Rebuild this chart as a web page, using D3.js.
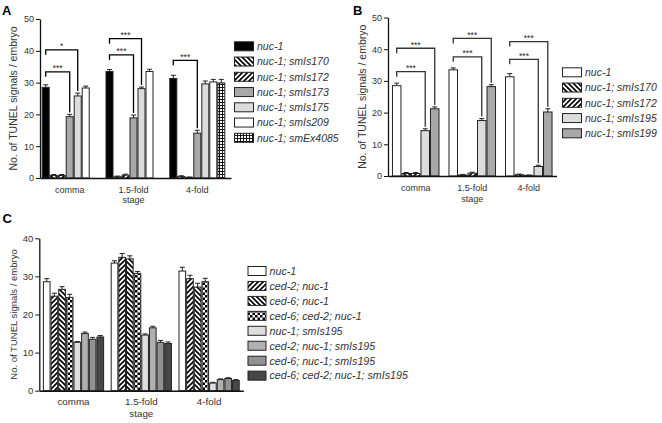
<!DOCTYPE html>
<html><head><meta charset="utf-8">
<script src="https://cdn.jsdelivr.net/npm/d3@7"></script>
<style>
body{margin:0;background:#fff}
svg{display:block}
text{font-family:"Liberation Sans",Arial,Helvetica,sans-serif;fill:#262626}
</style>
</head><body>
<svg id="chart" width="662" height="423"></svg>
<script>
// ---------- DATA ----------
const stages = ["comma", "1.5-fold", "4-fold"];

const seriesA = ["nuc-1", "nuc-1; smIs170", "nuc-1; smIs172", "nuc-1; smIs173", "nuc-1; smIs175", "nuc-1; smIs209", "nuc-1; smEx4085"];
const valuesA = [
  [28.5, 33.5, 31.3],
  [0.8, 0.4, 0.5],
  [0.8, 0.9, 0.2],
  [19.3, 18.9, 14.1],
  [25.8, 28.1, 29.6],
  [28.3, 33.5, 30.2],
  [null, null, 29.9]
];
const errorsA = [
  [0.8, 0.6, 1.0],
  [0.3, 0.2, 0.2],
  [0.3, 0.3, 0.1],
  [0.7, 0.9, 0.9],
  [0.9, 0.5, 0.9],
  [0.6, 0.7, 0.8],
  [null, null, 1.1]
];
const bracketsA = [
  {stage: "comma", from: 0, to: 3, level: 33.4, label: "***"},
  {stage: "comma", from: 0, to: 4, level: 40.3, label: "*"},
  {stage: "1.5-fold", from: 0, to: 3, level: 38.7, label: "***"},
  {stage: "1.5-fold", from: 0, to: 4, level: 43.8, label: "***"},
  {stage: "4-fold", from: 0, to: 3, level: 37.0, label: "***"}
];

const seriesB = ["nuc-1", "nuc-1; smIs170", "nuc-1; smIs172", "nuc-1; smIs195", "nuc-1; smIs199"];
const valuesB = [
  [28.5, 33.5, 31.3],
  [0.8, 0.3, 0.4],
  [0.8, 0.9, 0.2],
  [14.3, 17.5, 3.0],
  [21.2, 28.2, 20.2]
];
const errorsB = [
  [0.8, 0.6, 1.0],
  [0.3, 0.2, 0.2],
  [0.3, 0.3, 0.1],
  [0.6, 0.6, 0.4],
  [0.6, 0.6, 1.0]
];
const bracketsB = [
  {stage: "comma", from: 0, to: 3, level: 32.9, label: "***"},
  {stage: "comma", from: 0, to: 4, level: 40.3, label: "***"},
  {stage: "1.5-fold", from: 0, to: 3, level: 37.6, label: "***"},
  {stage: "1.5-fold", from: 0, to: 4, level: 43.4, label: "***"},
  {stage: "4-fold", from: 0, to: 3, level: 36.8, label: "***"},
  {stage: "4-fold", from: 0, to: 4, level: 42.4, label: "***"}
];

const seriesC = ["nuc-1", "ced-2; nuc-1", "ced-6; nuc-1", "ced-6; ced-2; nuc-1", "nuc-1; smIs195", "ced-2; nuc-1; smIs195", "ced-6; nuc-1; smIs195", "ced-6; ced-2; nuc-1; smIs195"];
const valuesC = [
  [28.6, 33.5, 31.4],
  [24.8, 35.0, 29.4],
  [26.6, 34.6, 27.2],
  [24.5, 30.8, 28.6],
  [12.7, 14.6, 2.0],
  [15.0, 16.5, 2.9],
  [13.5, 12.7, 3.2],
  [14.1, 12.4, 2.7]
];
const errorsC = [
  [0.8, 0.6, 1.0],
  [0.8, 1.0, 0.9],
  [0.7, 0.8, 1.0],
  [0.8, 0.5, 0.9],
  [0.2, 0.3, 0.2],
  [0.4, 0.4, 0.2],
  [0.5, 0.5, 0.2],
  [0.4, 0.4, 0.2]
];

const ticksAB = [0, 10, 20, 30, 40, 50];
const ticksC = [0, 10, 20, 30, 40];
const yTitle = "No. of TUNEL signals / embryo";
const xTitle = "stage";

// ---------- STYLES ----------
const fillsA = ["#000", "url(#diagDown)", "url(#diagUp)", "#a8a8a8", "#dcdcdc", "#fff", "url(#grid)"];
const fillsB = ["#fff", "url(#diagDown)", "url(#diagUp)", "#dcdcdc", "#a8a8a8"];
const fillsC = ["#fff", "url(#diagUp)", "url(#diagDown)", "url(#checker)", "#dedede", "#b0b0b0", "#929292", "#474747"];

const svg = d3.select("#chart");
const defs = svg.append("defs");

function stripe(id, d) {
  const p = defs.append("pattern").attr("id", id).attr("patternUnits", "userSpaceOnUse")
    .attr("width", 5).attr("height", 5);
  p.append("rect").attr("width", 5).attr("height", 5).attr("fill", "#fff");
  p.append("path").attr("d", d).attr("stroke", "#000").attr("stroke-width", 1.7).attr("fill", "none");
}
stripe("diagUp", "M-1,1 l2,-2 M0,5 l5,-5 M4,6 l2,-2");
stripe("diagDown", "M-1,4 l2,2 M0,0 l5,5 M4,-1 l2,2");
{
  const p = defs.append("pattern").attr("id", "checker").attr("patternUnits", "userSpaceOnUse")
    .attr("width", 5).attr("height", 5);
  p.append("rect").attr("width", 5).attr("height", 5).attr("fill", "#fff");
  p.append("rect").attr("width", 2.5).attr("height", 2.5).attr("fill", "#000");
  p.append("rect").attr("x", 2.5).attr("y", 2.5).attr("width", 2.5).attr("height", 2.5).attr("fill", "#000");
}
{
  const p = defs.append("pattern").attr("id", "grid").attr("patternUnits", "userSpaceOnUse")
    .attr("width", 3).attr("height", 3);
  p.append("rect").attr("width", 3).attr("height", 3).attr("fill", "#fff");
  p.append("path").attr("d", "M0.5,0 V3 M0,0.5 H3").attr("stroke", "#000").attr("stroke-width", 0.9);
}

function panel(cfg) {
  const g = svg.append("g");
  const x0 = d3.scaleBand().domain(stages).range(cfg.xr)
    .paddingInner(cfg.pi).paddingOuter(cfg.po).align(cfg.align);
  const x1 = d3.scaleBand().domain(d3.range(cfg.series.length)).range([0, x0.bandwidth()]);
  const y = d3.scaleLinear().domain([0, d3.max(cfg.ticks)]).range(cfg.yr);

  // bars
  cfg.series.forEach((s, i) => {
    stages.forEach((st, j) => {
      const v = cfg.values[i][j];
      if (v == null) return;
      const bx = x0(st) + x1(i);
      const e = cfg.errors[i][j];
      const cx = bx + x1.bandwidth() / 2;
      g.append("line").attr("x1", cx).attr("x2", cx).attr("y1", y(v)).attr("y2", y(v + e))
        .attr("stroke", "#222").attr("stroke-width", 1);
      g.append("line").attr("x1", cx - 2.5).attr("x2", cx + 2.5).attr("y1", y(v + e)).attr("y2", y(v + e))
        .attr("stroke", "#222").attr("stroke-width", 1);
      g.append("rect").attr("x", bx + 0.5).attr("y", y(v))
        .attr("width", x1.bandwidth() - 1).attr("height", Math.max(0, y(0) - y(v)))
        .attr("fill", cfg.fills[i]).attr("stroke", "#222").attr("stroke-width", 1);
    });
  });

  // significance brackets
  (cfg.brackets || []).forEach(b => {
    const j = stages.indexOf(b.stage);
    const xa = x0(b.stage) + x1(b.from) + x1.bandwidth() / 2;
    const xb = x0(b.stage) + x1(b.to) + x1.bandwidth() / 2;
    const yl = y(b.level);
    const yEnd = y(cfg.values[b.to][j] + cfg.errors[b.to][j]) - 2;
    g.append("path").attr("d", `M${xa},${yl + 5} V${yl} H${xb} V${yEnd}`)
      .attr("fill", "none").attr("stroke", cfg.bracketColor).attr("stroke-width", 1.3);
    g.append("text").attr("x", (xa + xb) / 2).attr("y", yl - 0.5).attr("text-anchor", "middle")
      .attr("font-size", 8.5).text(b.label);
  });

  // y axis
  const ya = g.append("g").attr("transform", `translate(${cfg.xr[0]},0)`)
    .call(d3.axisLeft(y).tickValues(cfg.ticks).tickSize(4).tickSizeOuter(0).tickPadding(2));
  ya.select(".domain").attr("stroke", "#111").attr("stroke-width", 1.3);
  ya.selectAll(".tick line").attr("stroke", "#111").attr("stroke-width", 1);
  ya.selectAll(".tick text").attr("font-size", cfg.tickFont).attr("font-family", null).style("fill", "#333");

  // x axis
  const xa = g.append("g").attr("transform", `translate(0,${cfg.yr[0]})`)
    .call(d3.axisBottom(x0).tickSize(0).tickSizeOuter(0).tickPadding(cfg.xPad));
  xa.select(".domain").attr("stroke", "#111").attr("stroke-width", 1.5);
  xa.selectAll(".tick text").attr("font-size", cfg.xFont).attr("font-family", null).style("fill", "#333");

  g.append("text").attr("x", x0("1.5-fold") + x0.bandwidth() / 2).attr("y", cfg.stageY)
    .attr("text-anchor", "middle").attr("font-size", cfg.xFont).style("fill", "#333").text(xTitle);

  g.append("text").attr("transform", `translate(${cfg.titleX},${(cfg.yr[0] + cfg.yr[1]) / 2}) rotate(-90)`)
    .attr("text-anchor", "middle").attr("font-size", cfg.titleFont).style("fill", "#333").text(yTitle);

  // panel label
  g.append("text").attr("x", cfg.label[1]).attr("y", cfg.label[2]).attr("font-size", 13)
    .attr("font-weight", "bold").style("fill", "#000").text(cfg.label[0]);

  // legend
  cfg.series.forEach((s, i) => {
    const cy = cfg.leg.y + i * cfg.leg.step;
    g.append("rect").attr("x", cfg.leg.x + 0.5).attr("y", cy - 4.5).attr("width", cfg.leg.w).attr("height", 9)
      .attr("fill", cfg.fills[i]).attr("stroke", "#222").attr("stroke-width", 1);
    g.append("text").attr("x", cfg.leg.x + cfg.leg.w + 4).attr("y", cy + 3.8)
      .attr("font-size", cfg.leg.font).attr("font-style", "italic").style("fill", "#333").text(s);
  });
}

panel({
  series: seriesA, values: valuesA, errors: errorsA, fills: fillsA, brackets: bracketsA,
  bracketColor: "#000", ticks: ticksAB,
  xr: [40, 231], pi: 0.122, po: 0.058, align: 0.23, yr: [178, 19],
  tickFont: 9, xFont: 9, xPad: 9, stageY: 202.5, titleX: 17, titleFont: 10.5,
  label: ["A", 2, 15], leg: {x: 234, y: 46.3, step: 15.25, w: 19, font: 10.5}
});
panel({
  series: seriesB, values: valuesB, errors: errorsB, fills: fillsB, brackets: bracketsB,
  bracketColor: "#333", ticks: ticksAB,
  xr: [388, 556.5], pi: 0.159, po: 0.07, align: 0.5, yr: [176, 17.5],
  tickFont: 9, xFont: 9, xPad: 9, stageY: 201.5, titleX: 366, titleFont: 10.5,
  label: ["B", 353, 15], leg: {x: 562, y: 72.3, step: 15.25, w: 19, font: 10.5}
});
panel({
  series: seriesC, values: valuesC, errors: errorsC, fills: fillsC,
  ticks: ticksC,
  xr: [39.3, 243.3], pi: 0.097, po: 0.053, align: 0.5, yr: [390.7, 238.3],
  tickFont: 9.5, xFont: 9.8, xPad: 7, stageY: 417, titleX: 17, titleFont: 9.5,
  label: ["C", 2.5, 223.3], leg: {x: 247.5, y: 271, step: 14.95, w: 18, font: 10.7}
});
</script>
</body></html>
